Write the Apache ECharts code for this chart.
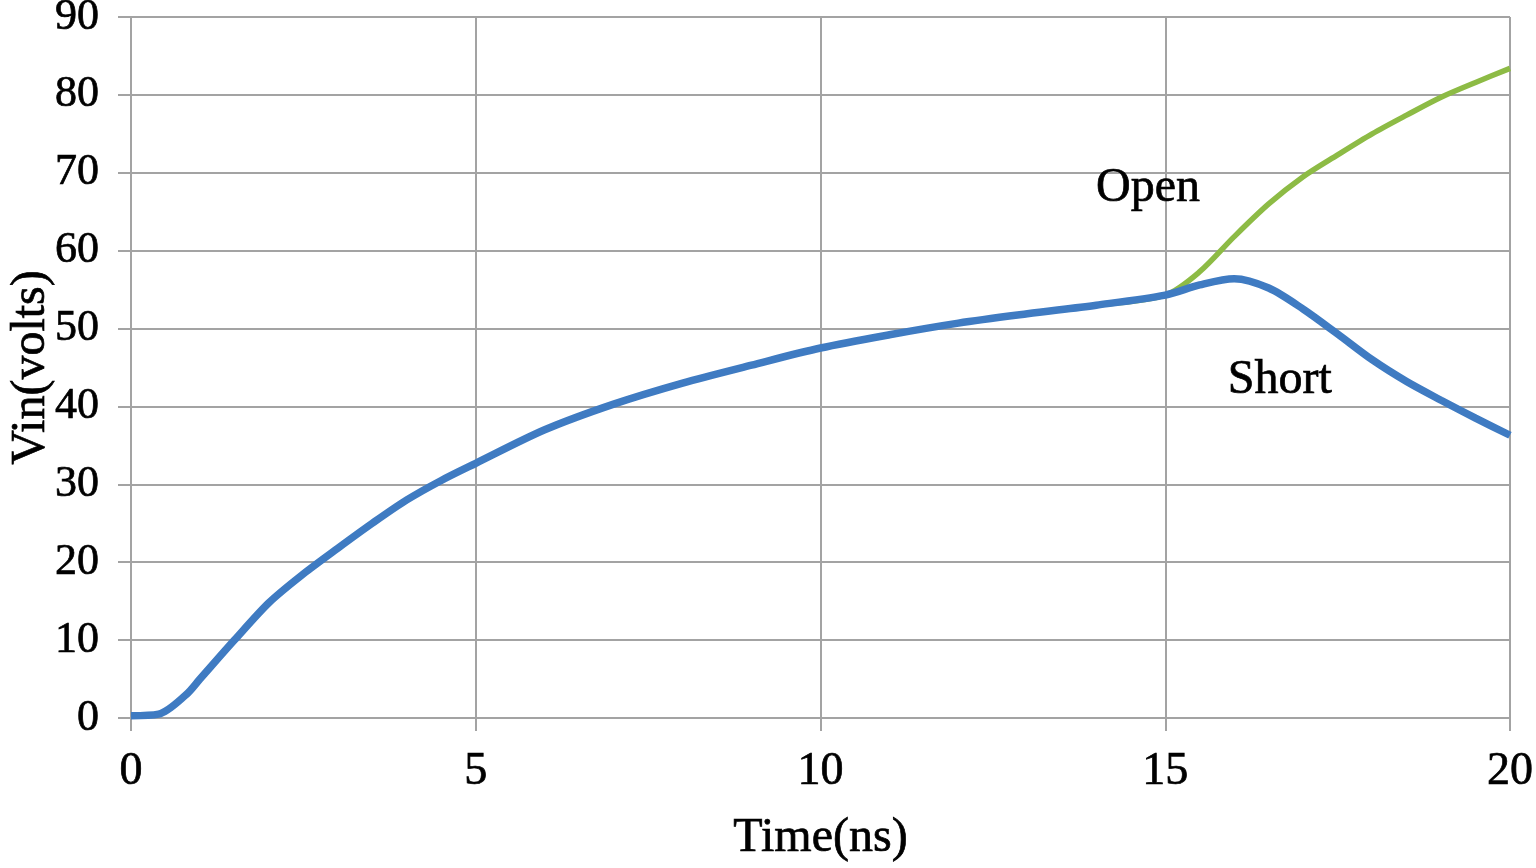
<!DOCTYPE html>
<html>
<head>
<meta charset="utf-8">
<script src="https://cdn.jsdelivr.net/npm/echarts@6/dist/echarts.min.js"></script>
<style>
  html, body { margin: 0; padding: 0; background: #fff; }
  #chart { width: 1536px; height: 868px; }
</style>
</head>
<body>
<div id="chart"></div>
<script>
// time (ns) and Vin (volts)
const times = [0, 0.4, 0.8, 1, 1.5, 2, 2.5, 3, 3.5, 4, 4.5, 5, 6, 7, 8, 9, 10, 11, 12, 13, 14, 15,
  15.5, 16, 16.5, 17, 17.5, 18, 18.5, 19, 19.5, 20]
const shortVals = [0.3, 0.5, 3, 5, 10, 14.8, 18.5, 21.8, 25, 28, 30.5, 32.7, 37, 40.3, 43, 45.3, 47.5, 49.2, 50.7, 51.9, 53, 54.3,
  55.6, 56.4, 55.2, 52.5, 49.3, 46, 43.2, 40.8, 38.5, 36.3]
const openVals = [0.3, 0.5, 3, 5, 10, 14.8, 18.5, 21.8, 25, 28, 30.5, 32.7, 37, 40.3, 43, 45.3, 47.5, 49.2, 50.7, 51.9, 53, 54.3,
  57.3, 61.8, 66, 69.5, 72.3, 75, 77.4, 79.7, 81.6, 83.4]
const labels = [
  { name: 'Open', at: [14.75, 68] },
  { name: 'Short', at: [16.66, 43.4] }
]

const pairs = vals => times.map((t, i) => [t, vals[i]])
const font = '"Liberation Serif", "DejaVu Serif", serif'
const gridColor = '#a3a3a3'
// the scanned text is a little heavier than plain Times
const ink = { color: '#000', textBorderColor: '#000', textBorderWidth: 0.7 }

const chart = echarts.init(document.getElementById('chart'))
chart.setOption({
  animation: false,
  textStyle: { fontFamily: font },
  grid: { left: 131, right: 26, top: 17, bottom: 150, outerBoundsMode: 'none', containLabel: false },
  xAxis: {
    type: 'value',
    min: 0,
    max: 20,
    interval: 5,
    name: 'Time(ns)',
    nameLocation: 'middle',
    nameGap: 96,
    nameMoveOverlap: false,
    nameTextStyle: { fontFamily: font, fontSize: 48, ...ink },
    axisLine: { lineStyle: { color: gridColor, width: 2 } },
    axisTick: { show: true, length: 13, lineStyle: { color: gridColor, width: 2 } },
    axisLabel: { fontFamily: font, fontSize: 46, margin: 31, ...ink },
    splitLine: { show: true, lineStyle: { color: gridColor, width: 2 } }
  },
  yAxis: {
    type: 'value',
    min: 0,
    max: 90,
    interval: 10,
    name: 'Vin(volts)',
    nameLocation: 'middle',
    nameGap: 76,
    nameMoveOverlap: false,
    nameTextStyle: { fontFamily: font, fontSize: 48, ...ink },
    axisLine: { show: true, lineStyle: { color: gridColor, width: 2 } },
    axisTick: { show: true, length: 13, lineStyle: { color: gridColor, width: 2 } },
    axisLabel: { fontFamily: font, fontSize: 44, margin: 32, padding: [14, 0, 0, 0], ...ink },
    splitLine: { show: true, lineStyle: { color: gridColor, width: 2 } }
  },
  series: [
    {
      name: 'Open',
      type: 'line',
      smooth: 0.3,
      symbol: 'none',
      data: pairs(openVals),
      lineStyle: { color: '#8dbb45', width: 5.5 },
      markPoint: {
        symbol: 'circle',
        symbolSize: 1,
        itemStyle: { color: 'rgba(0,0,0,0)' },
        label: { show: true, position: 'inside', formatter: p => p.name, fontFamily: font, fontSize: 48, ...ink },
        data: labels.map(l => ({ name: l.name, coord: l.at }))
      }
    },
    {
      name: 'Short',
      type: 'line',
      smooth: 0.3,
      symbol: 'none',
      data: pairs(shortVals),
      lineStyle: { color: '#3f7bc2', width: 7.5 }
    }
  ]
})
</script>
</body>
</html>
